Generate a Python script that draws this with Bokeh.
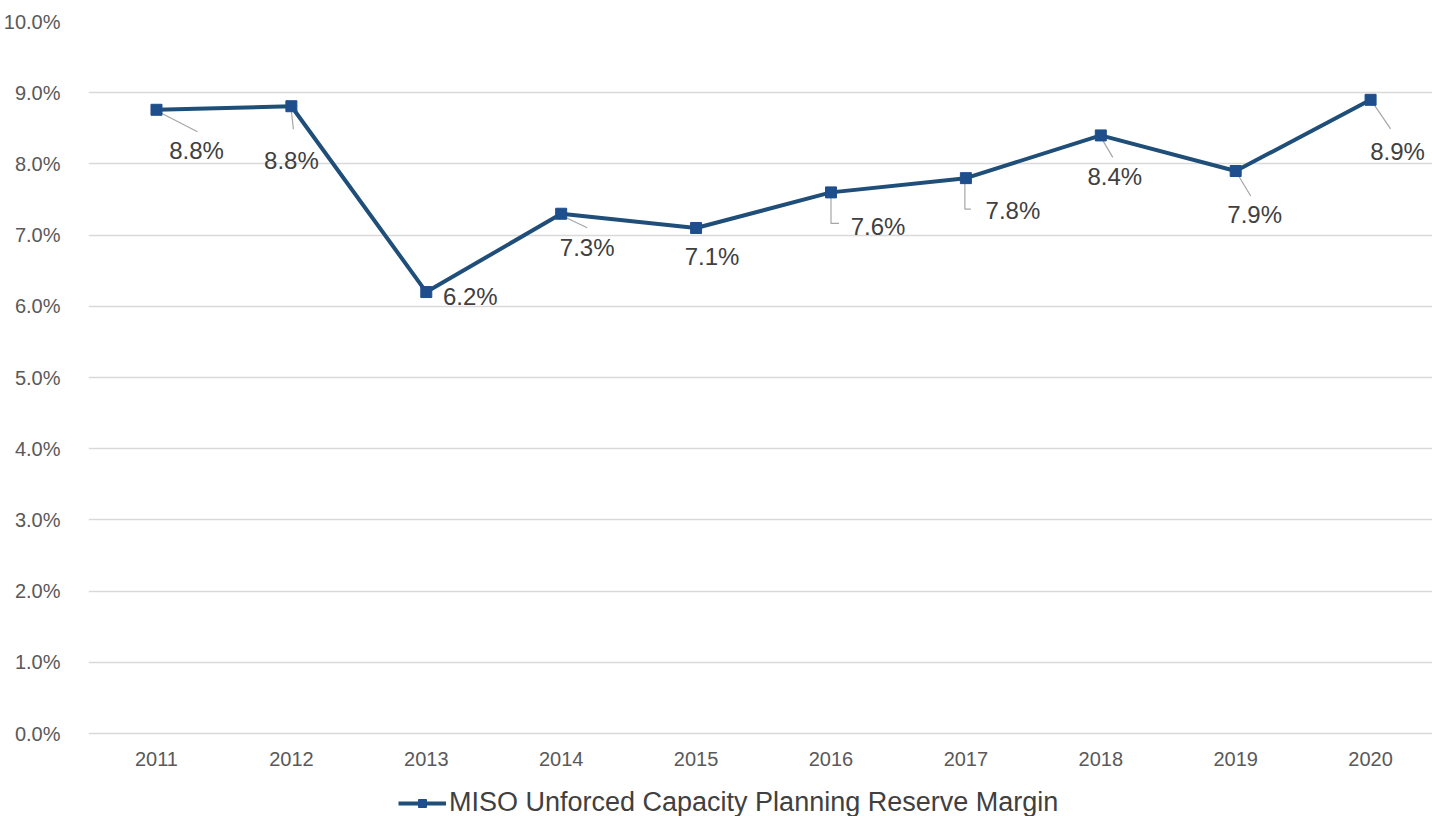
from bokeh.plotting import figure
from bokeh.models import (Range1d, FixedTicker, NumeralTickFormatter, ColumnDataSource,
                          Legend, LegendItem)
from bokeh.embed import file_html
from bokeh.resources import INLINE

# ---- data ----
years = ["2011", "2012", "2013", "2014", "2015", "2016", "2017", "2018", "2019", "2020"]
reserve_margin = [0.0876, 0.0881, 0.0620, 0.0730, 0.0710, 0.0760, 0.0780, 0.0840, 0.0790, 0.0890]
y_ticks = [0.00, 0.01, 0.02, 0.03, 0.04, 0.05, 0.06, 0.07, 0.08, 0.09, 0.10]
series_name = "MISO Unforced Capacity Planning Reserve Margin"

# ---- label placement (screen pixels relative to marker; +y is down) ----
label_dx = [40, 0, 44, 26, 16, 47, 47, 14, 19, 27]
label_dy = [41, 54, 4, 34, 29, 34, 32, 41, 43, 52]
leader_px = [
    [(4, 3), (41, 22)],
    [(0, 5), (2, 23)],
    [],
    [(3, 3), (26, 14)],
    [],
    [(0, 5), (0, 31), (8, 31)],
    [(-1, 5), (-1, 31), (5, 31)],
    [(2, 5), (12, 22)],
    [(3, 5), (15, 25)],
    [(3, 4), (20, 29)],
]

FONT = "Liberation Sans"
LINE_COLOR = "#1F4E79"
MARK_COLOR = "#1F4E8C"

FRAME_W = 1344
GRID_H = 712          # pixels between 0% and 10%
BOTTOM_PX = 83        # room under 0% for the axis labels and legend
X0, X1 = -0.504, 9.459
Y1 = 0.10
px_x = FRAME_W / (X1 - X0)
px_y = GRID_H / Y1
Y0 = -BOTTOM_PX / px_y

xs = list(range(len(years)))
p = figure(frame_width=FRAME_W, frame_height=GRID_H + BOTTOM_PX,
           x_range=Range1d(X0, X1), y_range=Range1d(Y0, Y1),
           output_backend="svg", toolbar_location=None,
           min_border_left=88, min_border_right=0, min_border_top=21, min_border_bottom=0)
p.outline_line_color = None
p.background_fill_color = "white"
p.border_fill_color = "white"

# axes
p.yaxis.ticker = FixedTicker(ticks=y_ticks)
p.yaxis.formatter = NumeralTickFormatter(format="0.0%")
p.xaxis.ticker = FixedTicker(ticks=xs)
p.xaxis.major_label_overrides = {i: y for i, y in enumerate(years)}
p.xaxis.fixed_location = 0
for ax in (p.xaxis, p.yaxis):
    ax.axis_line_color = None
    ax.major_tick_line_color = None
    ax.minor_tick_line_color = None
    ax.major_label_text_font = FONT
    ax.major_label_text_font_size = "20px"
    ax.major_label_text_color = "#595959"
p.yaxis.major_label_standoff = 22
p.xaxis.major_label_standoff = 12

p.xgrid.grid_line_color = None
p.ygrid.grid_line_color = "#D9D9D9"
p.ygrid.grid_line_width = 1.5
p.ygrid.ticker = FixedTicker(ticks=y_ticks)

# leader lines (converted from pixel offsets to data units)
lx, ly = [], []
for i, pts in enumerate(leader_px):
    if not pts:
        continue
    lx.append([xs[i] + dx / px_x for dx, dy in pts])
    ly.append([reserve_margin[i] - dy / px_y for dx, dy in pts])
p.multi_line(lx, ly, line_color="#A6A6A6", line_width=1.2)

src = ColumnDataSource(dict(
    x=xs, y=reserve_margin,
    lab=[f"{v * 100:.1f}%" for v in reserve_margin],
    dx=label_dx, dy=label_dy,
))
line_r = p.line("x", "y", source=src, line_color=LINE_COLOR, line_width=4)
mark_r = p.scatter("x", "y", source=src, marker="square", size=11,
                   fill_color=MARK_COLOR, line_color=MARK_COLOR)
p.text("x", "y", text="lab", source=src, x_offset="dx", y_offset="dy",
       text_align="center", text_baseline="middle",
       text_font={"value": FONT}, text_font_size="24px", text_color="#404040")

legend = Legend(items=[LegendItem(label=series_name, renderers=[line_r, mark_r])],
                location=(310, -2), orientation="horizontal",
                label_text_font=FONT, label_text_font_size="27px", label_text_color="#404040",
                glyph_width=48, glyph_height=20, label_standoff=3,
                border_line_color=None, background_fill_alpha=0,
                padding=0, margin=0)
p.add_layout(legend, "center")

open("out.html", "w").write(file_html(p, INLINE))
